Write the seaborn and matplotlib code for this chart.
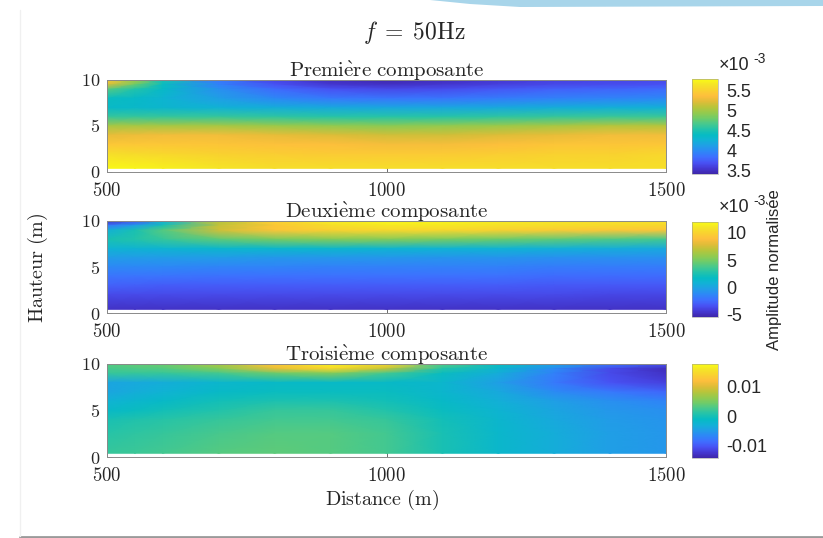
import numpy as np
import matplotlib
matplotlib.use("Agg")
import matplotlib.pyplot as plt
import seaborn as sns
from matplotlib.colors import LinearSegmentedColormap
from matplotlib.patches import Polygon
from matplotlib.lines import Line2D

# ---------------- data ----------------
distance = [500, 550, 600, 700, 800, 900, 1000, 1100, 1200, 1300, 1400, 1500]
hauteur12 = [10, 9.5, 9, 8, 7, 6, 5, 4, 3, 2, 0.4]
hauteur3 = [10, 9.5, 9, 8, 7, 6, 5, 4, 2.5, 0.4]

# first component (x 1e-3)
comp1 = [
    [5.44, 5.03, 4.48, 3.88, 3.62, 3.47, 3.42, 3.47, 3.54, 3.59, 3.62, 3.64],
    [5.20, 4.79, 4.41, 3.93, 3.69, 3.54, 3.50, 3.54, 3.59, 3.64, 3.66, 3.69],
    [4.72, 4.53, 4.36, 4.02, 3.81, 3.69, 3.64, 3.66, 3.71, 3.76, 3.78, 3.81],
    [4.41, 4.36, 4.29, 4.12, 3.98, 3.88, 3.86, 3.86, 3.90, 3.93, 3.95, 3.98],
    [4.36, 4.34, 4.31, 4.26, 4.22, 4.19, 4.17, 4.17, 4.19, 4.22, 4.24, 4.24],
    [4.60, 4.60, 4.60, 4.60, 4.58, 4.55, 4.55, 4.55, 4.58, 4.60, 4.62, 4.62],
    [5.03, 5.03, 5.03, 5.03, 4.98, 4.94, 4.91, 4.94, 4.98, 5.03, 5.08, 5.08],
    [5.27, 5.30, 5.32, 5.32, 5.27, 5.22, 5.18, 5.18, 5.22, 5.27, 5.32, 5.32],
    [5.44, 5.44, 5.44, 5.42, 5.39, 5.37, 5.34, 5.34, 5.37, 5.42, 5.42, 5.44],
    [5.61, 5.58, 5.56, 5.51, 5.49, 5.46, 5.46, 5.46, 5.49, 5.51, 5.51, 5.56],
    [5.78, 5.76, 5.73, 5.66, 5.61, 5.61, 5.61, 5.61, 5.61, 5.61, 5.61, 5.63],
]
# second component (x 1e-3)
comp2 = [
    [-4.70, -3.31, 0.69, 6.78, 9.91, 11.30, 11.83, 11.65, 11.30, 10.96, 10.78, 10.78],
    [-1.92, -0.18, 2.43, 7.13, 9.39, 10.61, 11.13, 11.13, 10.78, 10.61, 10.43, 10.26],
    [0.69, 2.43, 4.17, 7.48, 9.22, 9.91, 10.26, 10.26, 9.91, 9.56, 9.39, 9.22],
    [2.43, 2.78, 3.30, 4.34, 5.04, 5.39, 5.39, 5.04, 4.69, 4.34, 4.00, 3.65],
    [0.86, 0.95, 1.04, 1.21, 1.21, 1.21, 1.04, 0.86, 0.86, 0.69, 0.52, 0.34],
    [-0.35, -0.35, -0.35, -0.35, -0.53, -0.53, -0.53, -0.70, -0.70, -0.88, -0.88, -0.88],
    [-1.22, -1.22, -1.22, -1.40, -1.40, -1.57, -1.57, -1.57, -1.57, -1.75, -1.75, -1.75],
    [-2.09, -2.09, -2.09, -2.27, -2.27, -2.27, -2.27, -2.27, -2.27, -2.44, -2.44, -2.44],
    [-2.79, -2.88, -2.96, -2.96, -2.96, -2.96, -2.96, -2.96, -2.96, -3.14, -3.14, -3.14],
    [-3.66, -3.66, -3.66, -3.66, -3.66, -3.66, -3.66, -3.66, -3.66, -3.66, -3.83, -3.83],
    [-4.70, -4.70, -4.70, -4.70, -4.70, -4.70, -4.70, -4.70, -4.70, -4.70, -4.70, -4.70],
]
# third component (x 1e-3)
comp3 = [
    [3.45, 3.90, 4.40, 7.59, 13.02, 16.84, 14.61, 3.45, -0.70, -3.89, -7.72, -10.27],
    [2.81, 3.13, 3.45, 5.68, 10.78, 14.61, 8.87, 1.21, -1.98, -6.13, -10.91, -13.14],
    [1.85, 1.85, 1.85, 2.49, 4.40, 5.68, 2.49, -0.70, -3.25, -7.08, -10.91, -12.82],
    [-3.89, -3.57, -3.25, -1.98, -1.34, -1.34, -1.34, -1.98, -4.53, -7.72, -10.27, -11.55],
    [-3.89, -3.25, -2.62, -1.34, -0.70, -0.70, -0.70, -1.98, -3.57, -6.13, -7.72, -9.00],
    [-2.62, -1.98, -1.34, -0.06, 0.57, 0.57, -0.06, -1.34, -2.93, -4.53, -5.81, -6.76],
    [-1.34, -0.70, -0.06, 0.89, 1.85, 1.85, 0.89, -0.70, -2.30, -3.89, -5.17, -5.81],
    [0.26, 0.73, 1.21, 1.85, 2.49, 2.49, 1.85, -0.06, -1.98, -3.57, -4.85, -5.49],
    [1.21, 1.53, 1.85, 2.81, 3.45, 3.45, 2.49, 0.26, -1.66, -3.25, -4.53, -5.17],
    [1.85, 2.17, 2.49, 3.45, 3.76, 3.45, 2.49, 0.26, -1.66, -3.25, -4.53, -5.17],
]

titles = ["Premi\\grave{e}re", "Deuxi\\grave{e}me", "Troisi\\grave{e}me"]
clims = [(3.40e-3, 5.80e-3), (-5.4e-3, 12.0e-3), (-0.0141, 0.0178)]
cb_ticks = [[3.5e-3, 4e-3, 4.5e-3, 5e-3, 5.5e-3],
            [-5e-3, 0, 5e-3, 10e-3],
            [-0.01, 0, 0.01]]
cb_labels = [["3.5", "4", "4.5", "5", "5.5"],
             ["-5", "0", "5", "10"],
             ["-0.01", "0", "0.01"]]
x_ticks = [500, 1000, 1500]
y_ticks = [0, 5, 10]

# parula-like colormap anchors
parula_anchors = [
    (0.2422, 0.1504, 0.6603), (0.2691, 0.2199, 0.8287), (0.2810, 0.3228, 0.9579),
    (0.2440, 0.4358, 0.9988), (0.1786, 0.5289, 0.9682), (0.1310, 0.6170, 0.9050),
    (0.0689, 0.6948, 0.8394), (0.0232, 0.7350, 0.7654), (0.1350, 0.7640, 0.6694),
    (0.2810, 0.7860, 0.5540), (0.4420, 0.7995, 0.4051), (0.5850, 0.7920, 0.3010),
    (0.7250, 0.7700, 0.2300), (0.8810, 0.7380, 0.2200), (0.9938, 0.7476, 0.2372),
    (0.9780, 0.8200, 0.1900), (0.9609, 0.8937, 0.1547), (0.9769, 0.9839, 0.0805),
]
parula = LinearSegmentedColormap.from_list("parula", parula_anchors, N=256)

# ---------------- style ----------------
sns.set_theme(style="white")
plt.rcParams["mathtext.fontset"] = "cm"
plt.rcParams["font.family"] = ["Liberation Sans", "DejaVu Sans"]

W, H = 823, 538
fig = plt.figure(figsize=(W / 100, H / 100), dpi=100)
fig.patch.set_facecolor("white")

def fx(px):
    return px / W

def fy(py):
    return 1 - py / H

ax_boxes = [(107, 80, 666, 172), (107, 221, 666, 313), (107, 364, 666, 457)]
cb_boxes = [(692, 79, 718, 174), (692, 222, 718, 317), (692, 364, 718, 458)]
datasets = [(comp1, hauteur12), (comp2, hauteur12), (comp3, hauteur3)]
sans = ["Liberation Sans", "DejaVu Sans"]

for i in range(3):
    x0, y0, x1, y1 = ax_boxes[i]
    ax = fig.add_axes([fx(x0), fy(y1), fx(x1) - fx(x0), fy(y0) - fy(y1)])
    vals, hts = datasets[i]
    Z = np.array(vals) * 1e-3
    X, Y = np.meshgrid(distance, hts)
    vmin, vmax = clims[i]
    mesh = ax.pcolormesh(X, Y, Z, shading="gouraud", cmap=parula,
                         vmin=vmin, vmax=vmax, rasterized=True)
    ax.set_xlim(500, 1500)
    ax.set_ylim(0, 10)
    ax.set_xticks(x_ticks)
    ax.set_xticklabels([r"$%d$" % t for t in x_ticks])
    ax.set_yticks(y_ticks)
    ax.set_yticklabels([r"$%d$" % t for t in y_ticks])
    ax.tick_params(axis="both", direction="in", length=3.5, width=0.6,
                   color="#555555", labelsize=13.5, pad=4, colors="#262626",
                   bottom=True, left=True)
    ax.tick_params(axis="x", pad=7)
    ax.tick_params(axis="y", labelsize=13, pad=5)
    for sp in ax.spines.values():
        sp.set_color("#8a8a8a")
        sp.set_linewidth(0.7)
    ax.set_title(r"$\mathrm{%s\ composante}$" % titles[i], fontsize=15,
                 pad=2.5, color="#262626")

    cx0, cy0, cx1, cy1 = cb_boxes[i]
    cax = fig.add_axes([fx(cx0), fy(cy1), fx(cx1) - fx(cx0), fy(cy0) - fy(cy1)])
    cb = fig.colorbar(mesh, cax=cax)
    cb.set_ticks(cb_ticks[i])
    cb.set_ticklabels(cb_labels[i])
    cb.outline.set_linewidth(0.4)
    cb.outline.set_edgecolor("#9a9a9a")
    cax.tick_params(length=0, labelsize=13, pad=6, colors="#262626")
    for lab in cax.get_yticklabels():
        lab.set_family(sans)

# exponent labels above the first two colorbars
for ytop in (65, 207):
    fig.text(fx(719), fy(ytop), "\u00d710", fontsize=13, ha="left", va="center",
             color="#262626", family=sans)
    fig.text(fx(753), fy(ytop - 6), "-3", fontsize=10, ha="left", va="center",
             color="#262626", family=sans)

# figure texts
fig.text(fx(414), fy(32), r"$f\;=\;50\mathrm{Hz}$", fontsize=17, ha="center",
         va="center", color="#262626")
fig.text(fx(38), fy(268), r"$\mathrm{Hauteur\ (m)}$", fontsize=14.5, rotation=90,
         ha="center", va="center", color="#262626")
fig.text(fx(382), fy(500), r"$\mathrm{Distance\ (m)}$", fontsize=14.5,
         ha="center", va="center", color="#262626")
fig.text(fx(775), fy(270), "Amplitude normalis\u00e9e", fontsize=12, rotation=90,
         ha="center", va="center", color="#262626", family=sans)

# slide decorations (top swoosh, frame shadow)
fig.add_artist(Polygon([(fx(430), fy(0)), (fx(470), fy(4)), (fx(520), fy(7)),
                        (fx(823), fy(6)), (fx(823), fy(0))],
                       closed=True, transform=fig.transFigure,
                       facecolor="#a8d5ea", edgecolor="none"))
fig.add_artist(Line2D([fx(20), fx(823)], [fy(536.5), fy(536.5)],
                      transform=fig.transFigure, color="#9a9a9a", lw=2))
fig.add_artist(Line2D([fx(20), fx(20)], [fy(10), fy(536)],
                      transform=fig.transFigure, color="#f0f0f0", lw=1))

fig.savefig("out.png", dpi=100, facecolor="white")
